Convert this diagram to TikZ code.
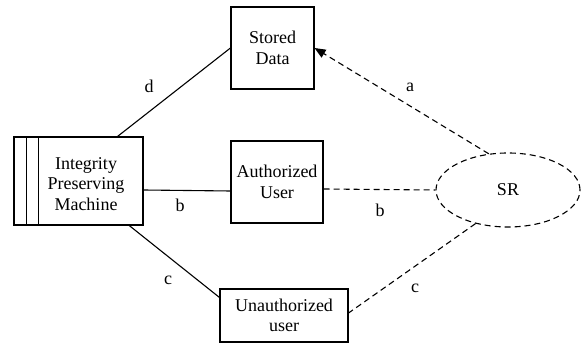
\documentclass[tikz,border=0pt]{standalone}
\usepackage{fontspec}
\setmainfont{Liberation Serif}
\usetikzlibrary{arrows.meta,calc,shapes.geometric}

\tikzset{
  box/.style={draw, line width=1.1pt, rectangle, inner sep=0pt, align=center,
              font=\fontsize{18}{20.5}\selectfont},
  txt/.style={inner sep=0pt, align=center, font=\fontsize{18}{20.5}\selectfont},
  lbl/.style={inner sep=0pt, font=\fontsize{18}{20.5}\selectfont},
  solidlink/.style={line width=1.1pt},
  dashlink/.style={line width=1.1pt, dash pattern=on 6pt off 4pt},
}

\begin{document}
\begin{tikzpicture}[x=1pt, y=-1pt]
  \useasboundingbox (0,0) rectangle (586,344);

  % the machine with its three left-hand bars
  \node[box, minimum width=129pt, minimum height=88pt] (machine) at (78.5,181) {};
  \draw[line width=1.1pt] ($(machine.north west)+(13,0)$) coordinate (bar1t) -- (bar1t |- machine.south);
  \draw[line width=1.1pt] ($(machine.north west)+(25,0)$) coordinate (bar2t) -- (bar2t |- machine.south);
  \node[txt] (machinetext) at (86,184) {Integrity\\Preserving\\Machine};

  % the other parties
  \node[box, minimum width=83pt, minimum height=82pt] (stored) at (272.5,48) {Stored\\Data};
  \node[box, minimum width=92pt, minimum height=82pt] (auth) at (277,182) {Authorized\\User};
  \node[box, minimum width=128pt, minimum height=53pt] (unauth) at (284,315.5) {Unauthorized\\user};
  \node[draw, dashed, line width=1.1pt, dash pattern=on 6pt off 4pt, ellipse,
        minimum width=144pt, minimum height=74pt, inner sep=0pt,
        font=\fontsize{18}{20.5}\selectfont] (sr) at (508,190) {SR};

  % solid links from the machine
  \draw[solidlink] ($(machine.north west)!0.8!(machine.north east)$) -- (stored.west);
  \draw[solidlink] ([yshift=-9pt]machine.east) -- ([yshift=-9pt]auth.west);
  \draw[solidlink] ($(machine.south west)!0.89!(machine.south east)$) -- ([yshift=-9pt]unauth.north west);

  % dashed links from SR
  \draw[dashlink, -{Triangle[length=11pt, width=9pt]}] (sr.118) -- (stored.east);
  \draw[dashlink] ([yshift=-7pt]auth.east) -- (sr.west);
  \draw[dashlink] (sr.226) -- ([yshift=2.5pt]unauth.east);

  % link labels
  \node[lbl] (ld) at (149,86) {d};
  \node[lbl] (lb1) at (180,205) {b};
  \node[lbl] (lc1) at (168,280) {c};
  \node[lbl] (la) at (410,87) {a};
  \node[lbl] (lb2) at (380,210) {b};
  \node[lbl] (lc2) at (415,288) {c};
\end{tikzpicture}
\end{document}
